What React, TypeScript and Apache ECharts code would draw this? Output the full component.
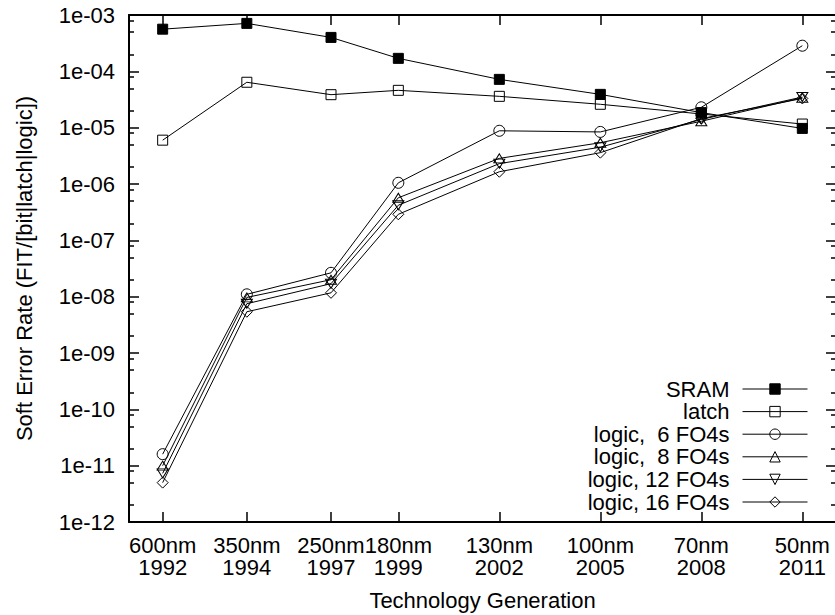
import React, { useEffect, useRef } from "react";
import * as echarts from "echarts";

// ---- data ----
const categories = [
  "600nm\n1992",
  "350nm\n1994",
  "250nm\n1997",
  "180nm\n1999",
  "130nm\n2002",
  "100nm\n2005",
  "70nm\n2008",
  "50nm\n2011",
];
// position of each technology generation along the x axis (gnuplot user units)
const xPositions = [0, 1, 2, 2.8, 4, 5.2, 6.4, 7.6];

const seriesNames = [
  "SRAM",
  "latch",
  "logic,  6 FO4s",
  "logic,  8 FO4s",
  "logic, 12 FO4s",
  "logic, 16 FO4s",
];

const sram = [5.6e-4, 7.1e-4, 4.0e-4, 1.7e-4, 7.2e-5, 3.9e-5, 1.85e-5, 9.7e-6];
const latch = [6.0e-6, 6.4e-5, 3.85e-5, 4.6e-5, 3.6e-5, 2.6e-5, 1.75e-5, 1.16e-5];
const logic6 = [1.6e-11, 1.1e-8, 2.65e-8, 1.05e-6, 8.8e-6, 8.4e-6, 2.3e-5, 2.85e-4];
const logic8 = [1.0e-11, 9.7e-9, 2.0e-8, 5.7e-7, 2.85e-6, 5.4e-6, 1.3e-5, 3.4e-5];
const logic12 = [7.3e-12, 7.5e-9, 1.7e-8, 4.2e-7, 2.3e-6, 4.5e-6, 1.4e-5, 3.5e-5];
const logic16 = [5.0e-12, 5.4e-9, 1.17e-8, 2.9e-7, 1.65e-6, 3.6e-6, 1.45e-5, 3.3e-5];

const yMin = 1e-12;
const yMax = 1e-3;
const minorMantissas = [2, 5, 8];
const decadeExponents = [-12, -11, -10, -9, -8, -7, -6, -5, -4];

// ---- styling ----
const FONT = "'Liberation Sans', Arial, Helvetica, sans-serif";
const BLACK = "#000";
const FS = 22;

const minorTickValues: number[] = [];
decadeExponents.forEach((e) =>
  minorMantissas.forEach((m) => minorTickValues.push(Number(`${m}e${e}`)))
);

const fmtExp = (v: number) => {
  const e = Math.round(Math.log10(v));
  return `1e${e < 0 ? "-" : "+"}${String(Math.abs(e)).padStart(2, "0")}`;
};
const fmtX = (v: number) => {
  const i = xPositions.findIndex((p) => Math.abs(p - v) < 1e-6);
  return i >= 0 ? categories[i] : "";
};

const seriesDefs = [
  { name: seriesNames[0], values: sram, symbol: "rect", size: 10, fill: BLACK, rotate: 0 },
  { name: seriesNames[1], values: latch, symbol: "rect", size: 10, fill: "rgba(0,0,0,0)", rotate: 0 },
  { name: seriesNames[2], values: logic6, symbol: "circle", size: 11, fill: "rgba(0,0,0,0)", rotate: 0 },
  { name: seriesNames[3], values: logic8, symbol: "triangle", size: [11, 9], fill: "rgba(0,0,0,0)", rotate: 0 },
  { name: seriesNames[4], values: logic12, symbol: "triangle", size: [11, 9], fill: "rgba(0,0,0,0)", rotate: 180 },
  { name: seriesNames[5], values: logic16, symbol: "diamond", size: 11, fill: "rgba(0,0,0,0)", rotate: 0 },
];

const axisLine = { show: true, onZero: false, lineStyle: { color: BLACK, width: 2 } };
const tickLine = { color: BLACK, width: 1.5 };

const xAxisBase = {
  type: "value" as const,
  min: -0.4,
  max: 8,
  axisLine,
  splitLine: { show: false },
  axisTick: { show: true, inside: true, length: 10, customValues: xPositions, lineStyle: tickLine },
};

const yAxisBase = {
  type: "log" as const,
  min: yMin,
  max: yMax,
  logBase: 10,
  splitNumber: 9,
  splitLine: { show: false },
  minorTick: { show: false },
  minorSplitLine: { show: false },
};

const legendTop0 = 378;
const legendRowGap = 22.6;

const option: any = {
  animation: false,
  backgroundColor: "#fff",
  textStyle: { fontFamily: FONT, color: BLACK },
  grid: {
    left: 129,
    top: 15,
    width: 707,
    height: 507,
    containLabel: false,
    outerBoundsMode: "none",
  },
  legend: seriesNames.map((n, i) => ({
    data: [n],
    orient: "vertical",
    align: "right",
    right: 27,
    top: legendTop0 + i * legendRowGap,
    padding: 0,
    itemGap: 0,
    itemWidth: 65,
    itemHeight: 13,
    selectedMode: false,
    lineStyle: { width: 1, color: BLACK },
    itemStyle: { borderWidth: 1, borderColor: BLACK },
    textStyle: { fontFamily: FONT, fontSize: FS, color: BLACK, padding: [0, 8, 0, 0] },
  })),
  xAxis: [
    {
      ...xAxisBase,
      position: "bottom",
      axisLabel: {
        customValues: xPositions,
        formatter: fmtX,
        fontFamily: FONT,
        fontSize: FS,
        lineHeight: 22,
        color: BLACK,
        margin: 12,
      },
      name: "Technology Generation",
      nameLocation: "middle",
      nameGap: 67,
      nameTextStyle: { fontFamily: FONT, fontSize: FS, color: BLACK },
    },
    {
      ...xAxisBase,
      position: "top",
      axisLabel: { show: false },
    },
  ],
  yAxis: [
    {
      ...yAxisBase,
      position: "left",
      axisLine,
      axisTick: { show: true, inside: true, length: 10, lineStyle: tickLine },
      axisLabel: {
        formatter: fmtExp,
        fontFamily: FONT,
        fontSize: FS,
        color: BLACK,
        margin: 14,
        showMinLabel: true,
        showMaxLabel: true,
      },
      name: "Soft Error Rate (FIT/[bit|latch|logic])",
      nameLocation: "middle",
      nameGap: 94,
      nameTextStyle: { fontFamily: FONT, fontSize: FS, color: BLACK },
    },
    {
      ...yAxisBase,
      position: "left",
      axisLine: { show: false, onZero: false },
      axisTick: { show: true, inside: true, length: 5, customValues: minorTickValues, lineStyle: tickLine },
      axisLabel: { show: false },
    },
    {
      ...yAxisBase,
      position: "right",
      axisLine,
      axisTick: { show: true, inside: true, length: 10, lineStyle: tickLine },
      axisLabel: { show: false },
    },
    {
      ...yAxisBase,
      position: "right",
      axisLine: { show: false, onZero: false },
      axisTick: { show: true, inside: true, length: 5, customValues: minorTickValues, lineStyle: tickLine },
      axisLabel: { show: false },
    },
  ],
  series: seriesDefs.map((s) => ({
    name: s.name,
    type: "line",
    xAxisIndex: 0,
    yAxisIndex: 0,
    data: s.values.map((v, i) => [xPositions[i], v]),
    symbol: s.symbol,
    symbolSize: s.size,
    symbolRotate: s.rotate,
    showSymbol: true,
    color: BLACK,
    lineStyle: { color: BLACK, width: 1 },
    itemStyle: { color: s.fill, borderColor: BLACK, borderWidth: 1 },
    emphasis: { disabled: true },
  })),
};

export default function App() {
  const ref = useRef<HTMLDivElement>(null);
  useEffect(() => {
    const chart = echarts.init(ref.current!, null, { renderer: "svg" });
    chart.setOption(option);
    return () => chart.dispose();
  }, []);
  return (
    <div
      ref={ref}
      style={{ position: "absolute", left: 0, top: 0, width: 835, height: 615, background: "#fff" }}
    />
  );
}
